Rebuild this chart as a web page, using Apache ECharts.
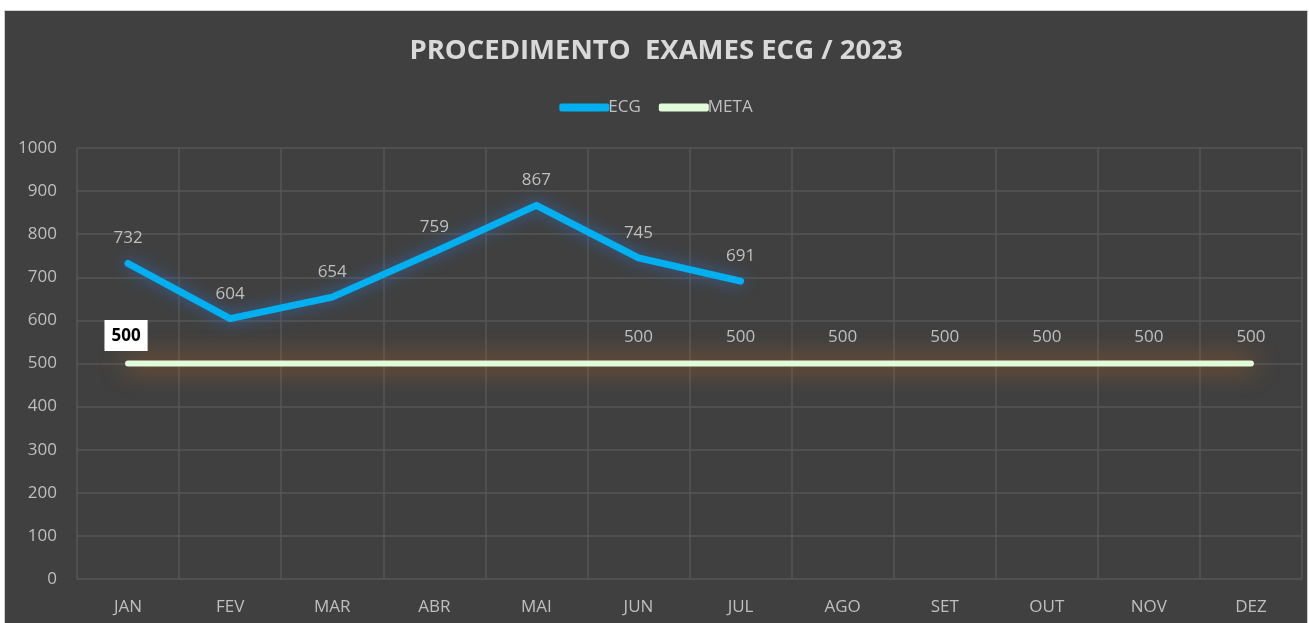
<!DOCTYPE html>
<html>
<head>
<meta charset="utf-8">
<script src="https://cdn.jsdelivr.net/npm/echarts@6/dist/echarts.min.js"></script>
<style>
html,body{margin:0;padding:0;background:#fff;}
#c{position:absolute;left:5px;top:11px;width:1302px;height:612px;background:#404040;box-shadow:0 0 0 1px #d0d0d0;}
</style>
</head>
<body>
<div id="c"></div>
<script>
const titleText = 'PROCEDIMENTO  EXAMES ECG / 2023';
const months = ['JAN','FEV','MAR','ABR','MAI','JUN','JUL','AGO','SET','OUT','NOV','DEZ'];
const ecg = [732, 604, 654, 759, 867, 745, 691, null, null, null, null, null];
const meta = [500, 500, 500, 500, 500, 500, 500, 500, 500, 500, 500, 500];
const metaLabelShown = [true, false, false, false, false, true, true, true, true, true, true, true];
const yTicks = [0, 100, 200, 300, 400, 500, 600, 700, 800, 900, 1000];

const FONT = '"Open Sans", "Noto Sans", sans-serif';
const ECG_COLOR = '#00b0f0';
const META_COLOR = '#e2fcd9';
const chart = echarts.init(document.getElementById('c'));

const metaData = meta.map((v, i) => {
  if (i === 0) {
    return {value: v, label: {show: true, backgroundColor: '#ffffff', color: '#000000', fontWeight: 'bold', padding: [8, 7, 6, 7], fontSize: 17, distance: 12, offset: [-2, 0]}};
  }
  return {value: v, label: {show: metaLabelShown[i]}};
});

chart.setOption({
  backgroundColor: '#404040',
  animation: false,
  title: {
    text: titleText,
    left: 'center',
    top: 21,
    textStyle: {color: '#d9d9d9', fontSize: 27.5, fontWeight: 'bold', fontFamily: FONT}
  },
  legend: {
    top: 83,
    left: 'center',
    itemWidth: 50,
    itemHeight: 8,
    itemGap: 18,
    icon: 'roundRect',
    textStyle: {color: '#bfbfbf', fontSize: 17, fontFamily: FONT, padding: [0, 0, 0, -6]},
    data: [
      {name: 'ECG', itemStyle: {color: ECG_COLOR, opacity: 1}},
      {name: 'META', itemStyle: {color: META_COLOR, opacity: 1}}
    ]
  },
  grid: {left: 72, top: 137, width: 1225, height: 431, containLabel: false},
  xAxis: {
    type: 'category',
    data: months,
    boundaryGap: true,
    axisLine: {show: false},
    axisTick: {show: false},
    axisLabel: {color: '#bfbfbf', fontSize: 17, fontFamily: FONT, margin: 20},
    splitLine: {show: true, lineStyle: {color: '#565656', width: 1.5}}
  },
  yAxis: {
    type: 'value',
    min: yTicks[0],
    max: yTicks[yTicks.length - 1],
    interval: 100,
    axisLine: {show: false},
    axisTick: {show: false},
    axisLabel: {color: '#bfbfbf', fontSize: 17, fontFamily: FONT, margin: 20, formatter: v => String(v)},
    splitLine: {show: true, lineStyle: {color: '#565656', width: 1.5}}
  },
  series: [
    {
      name: 'ECG',
      type: 'line',
      data: ecg,
      symbol: 'circle',
      symbolSize: 1,
      showSymbol: true,
      itemStyle: {color: 'rgba(0,0,0,0)'},
      connectNulls: false,
      lineStyle: {color: ECG_COLOR, width: 7, cap: 'round', join: 'round', shadowColor: 'rgba(50,110,190,0.85)', shadowBlur: 16},
      label: {show: true, position: 'top', distance: 16, color: '#bfbfbf', fontSize: 17, fontFamily: FONT},
      z: 3
    },
    {
      name: 'META',
      type: 'line',
      data: metaData,
      symbol: 'circle',
      symbolSize: 1,
      showSymbol: true,
      itemStyle: {color: 'rgba(0,0,0,0)'},
      lineStyle: {color: META_COLOR, width: 6, cap: 'round', shadowColor: 'rgba(210,110,30,1)', shadowBlur: 26},
      label: {show: false, position: 'top', distance: 17, color: '#bfbfbf', fontSize: 17, fontFamily: FONT},
      z: 2
    }
  ]
});
</script>
</body>
</html>
